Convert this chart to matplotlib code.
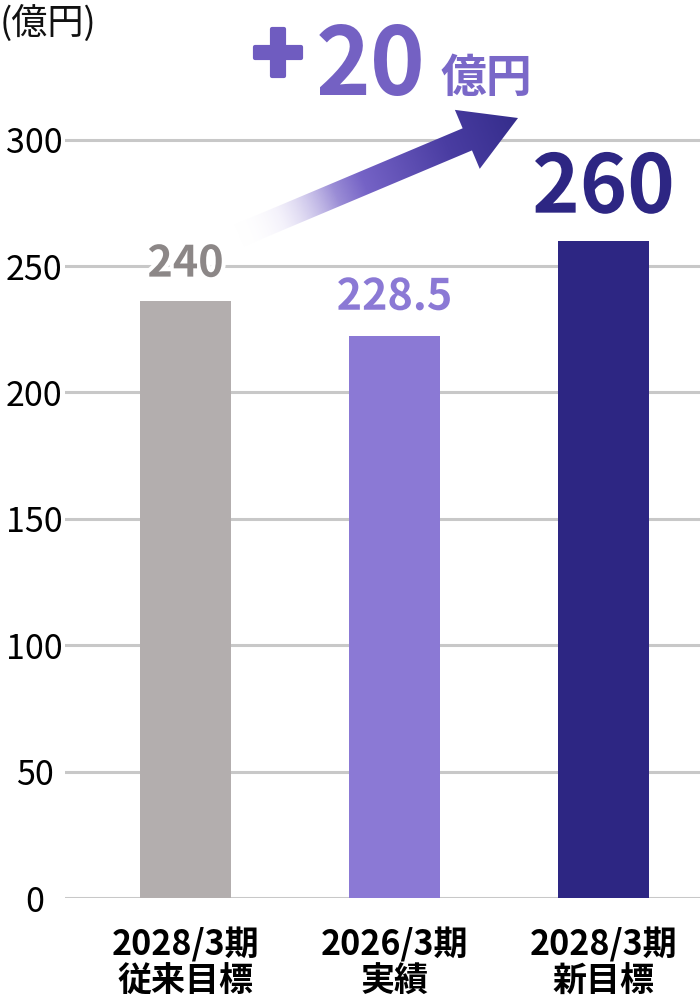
import numpy as np
import matplotlib
matplotlib.use("Agg")
from matplotlib import pyplot as plt
from matplotlib.patches import Polygon
from matplotlib.colors import LinearSegmentedColormap
import matplotlib.patheffects as pe

plt.rcParams['font.family'] = ['Noto Sans CJK JP', 'DejaVu Sans']

# data
categories = ["2028/3期\n従来目標", "2026/3期\n実績", "2028/3期\n新目標"]
bar_heights = [236.3, 222.4, 260.0]      # heights as drawn
value_labels = ["240", "228.5", "260"]  # labels as printed
bar_colors = ["#b3aeae", "#8b79d5", "#2d2683"]
label_colors = ["#8c8787", "#8b79d5", "#2d2683"]
label_sizes = [31, 31, 58]
label_offsets = [9.5, 10.3, 11.1]
yticks = [0, 50, 100, 150, 200, 250, 300]

W, H = 700, 998
fig = plt.figure(figsize=(W / 100, H / 100), dpi=100)

# main axes: left edge at x=65px, zero line at y=898px
px_per_unit = 126.4 / 50
ax = fig.add_axes([65 / W, (H - 898) / H, 635 / W, 898 / H])
ax.set_ylim(0, 898 / px_per_unit)
ax.set_xlim(-0.577, 2.462)
ax.patch.set_visible(False)

x = np.arange(len(categories))
ax.bar(x, bar_heights, width=0.435, color=bar_colors, zorder=3)

for yv in yticks:
    ax.axhline(yv, color="#c8c8c8", lw=2.2, zorder=1)

for s in ax.spines.values():
    s.set_visible(False)
ax.set_yticks(yticks)
ax.set_yticklabels([str(v) for v in yticks], fontsize=24.5, ha="center")
ax.tick_params(axis="y", length=0, pad=22)
ax.set_xticks(x)
ax.set_xticklabels(categories, fontsize=24.5, fontweight="bold", linespacing=1.05)
ax.tick_params(axis="x", length=0, pad=21)

# overlay in pixel coordinates for the arrow and headings
ov = fig.add_axes([0, 0, 1, 1])
ov.set_xlim(0, W)
ov.set_ylim(H, 0)
ov.axis("off")
ov.set_zorder(5)

tail = np.array([238.0, 236.0])
tip = np.array([518.0, 118.0])
u = (tip - tail) / np.linalg.norm(tip - tail)
n = np.array([-u[1], u[0]])
head_len = 55.0
shaft_hw = 12.0
head_hw = 32.0
base = tip - u * head_len
pts = [tail + n * shaft_hw, base + n * shaft_hw, base + n * head_hw, tip,
       base - n * head_hw, base - n * shaft_hw, tail - n * shaft_hw]
poly = Polygon(pts, closed=True, facecolor="none", edgecolor="none")
ov.add_patch(poly)

xs = np.linspace(200, 540, 400)
ys = np.linspace(90, 270, 220)
XX, YY = np.meshgrid(xs, ys)
t = ((XX - tail[0]) * u[0] + (YY - tail[1]) * u[1]) / np.linalg.norm(tip - tail)
t = np.clip(t, 0, 1)
cmap = LinearSegmentedColormap.from_list(
    "arr", [(0.0, "#ffffff"), (0.15, "#e6e1f6"), (0.45, "#7563c6"),
            (0.75, "#4a3da2"), (1.0, "#352d8c")])
rgba = cmap(t)
rgba[..., 3] = np.clip(t / 0.35, 0, 1)
im = ov.imshow(rgba, extent=[xs[0], xs[-1], ys[0], ys[-1]], origin="lower",
               interpolation="bilinear", aspect="auto", zorder=2)
im.set_clip_path(poly)
ov.set_xlim(0, W)
ov.set_ylim(H, 0)

# value labels, positioned from bar data
for i, (h, lab) in enumerate(zip(bar_heights, value_labels)):
    ov.text(x[i], h + label_offsets[i], lab, transform=ax.transData,
            ha="center", va="baseline", fontsize=label_sizes[i],
            fontweight="bold", color=label_colors[i], zorder=4,
            path_effects=[pe.withStroke(linewidth=6, foreground="white")])

# unit and difference headings
ov.text(0, 34, "(億円)", fontsize=26, ha="left", va="baseline", color="#111111")
ov.text(278, 85, "+", fontsize=62, fontweight="heavy", color="#6f5cc0",
        ha="center", va="baseline",
        path_effects=[pe.withStroke(linewidth=3, foreground="#6f5cc0")])
ov.text(371, 95, "20", fontsize=67, fontweight="bold", color="#7461c3",
        ha="center", va="baseline")
ov.text(486, 92, "億円", fontsize=33, fontweight="bold", color="#7a68c8",
        ha="center", va="baseline")

fig.savefig("out.png", dpi=100)
